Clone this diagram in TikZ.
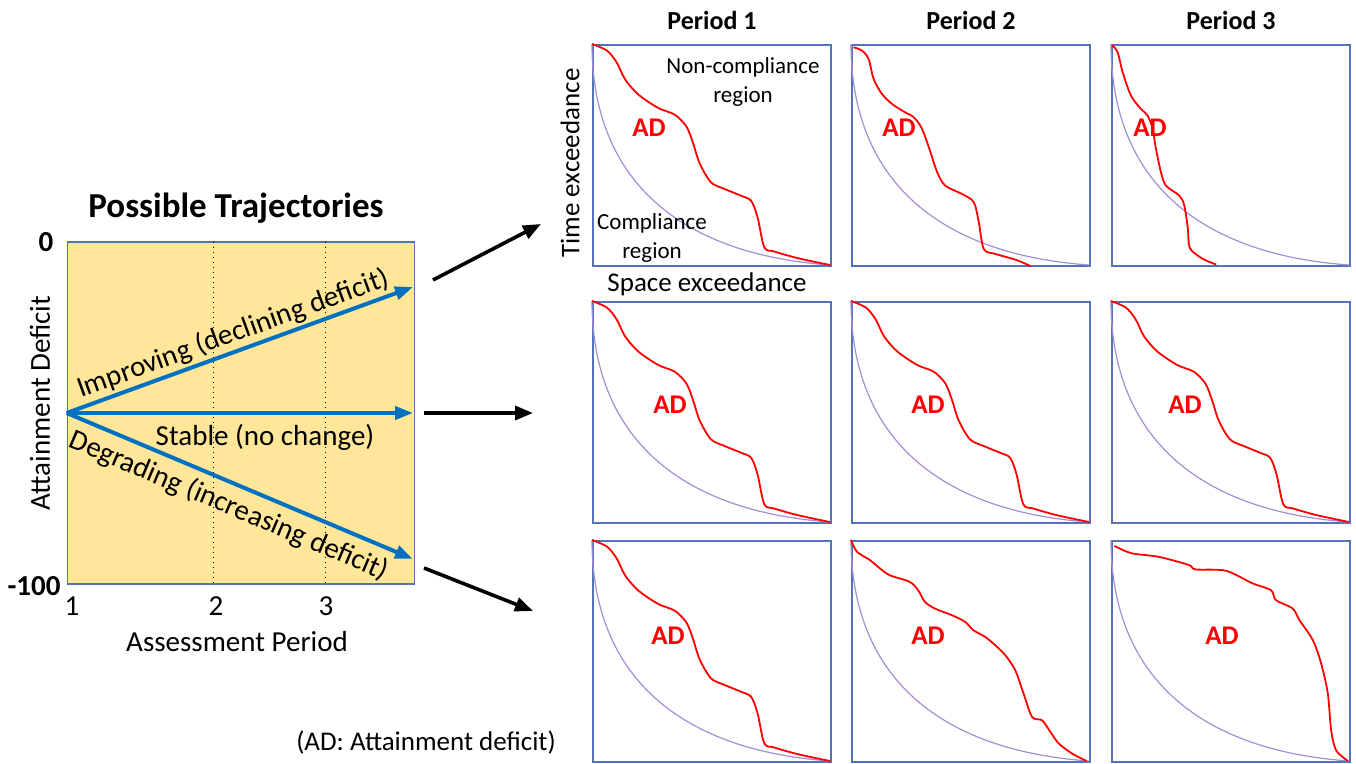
\documentclass[tikz,border=0pt]{standalone}
\usepackage{fontspec}
\setmainfont{Carlito}
\usetikzlibrary{arrows.meta}

\definecolor{gold}{HTML}{FFE699}
\definecolor{trajblue}{HTML}{0070C0}
\definecolor{frameblue}{HTML}{5273B5}
\definecolor{boundpurple}{HTML}{A58CD6}

\tikzset{
  panel/.style={draw=frameblue, line width=1pt, minimum width=119pt, minimum height=110.5pt, inner sep=0pt},
  bound/.style={draw=boundpurple, line width=0.6pt},
  deficit/.style={draw=red, line width=0.9pt},
  adlabel/.style={text=red, font=\bfseries\fontsize{13.5}{16}\selectfont},
  trajarrow/.style={trajblue, line width=2pt, -{Triangle[length=9pt,width=6.5pt]}},
  link/.style={black, line width=1.8pt, -{Triangle[length=9pt,width=7pt]}},
  lbl/.style={font=\fontsize{14.5}{17}\selectfont},
  small/.style={font=\fontsize{13.5}{16}\selectfont},
  region/.style={font=\fontsize{11.5}{14.5}\selectfont, align=center},
  head/.style={font=\bfseries\fontsize{13}{16}\selectfont},
}

% red curves, panel-local units
\newcommand\adcurveA{\draw[deficit] plot[smooth,tension=0.5] coordinates {(0,0) (.063,.03) (.104,.084) (.139,.16) (.195,.229) (.279,.29) (.348,.32) (.397,.374) (.425,.45) (.453,.542) (.5,.626) (.557,.656) (.627,.687) (.669,.71) (.696,.786) (.724,.92) (.766,.939) (.864,.969) (1,1)};}
\newcommand\adcurveB{\draw[deficit] plot[smooth,tension=0.5] coordinates {(.011,.015) (.046,.03) (.074,.068) (.095,.158) (.13,.226) (.172,.271) (.222,.306) (.264,.332) (.299,.385) (.334,.49) (.362,.58) (.396,.641) (.467,.679) (.516,.716) (.537,.807) (.558,.928) (.607,.95) (.691,.976) (.755,1.005)};}
\newcommand\adcurveC{\draw[deficit] plot[smooth,tension=0.5] coordinates {(.004,.005) (.028,.038) (.049,.128) (.084,.234) (.126,.294) (.154,.324) (.175,.385) (.189,.475) (.21,.581) (.231,.641) (.287,.686) (.308,.731) (.323,.837) (.33,.92) (.365,.958) (.4,.98) (.442,.998)};}
\newcommand\adcurveD{\draw[deficit] plot[smooth,tension=0.5] coordinates {(0,0) (.025,.053) (.08,.091) (.113,.121) (.162,.159) (.246,.189) (.282,.227) (.31,.279) (.352,.31) (.423,.34) (.479,.37) (.514,.408) (.563,.438) (.606,.476) (.648,.521) (.69,.589) (.725,.695) (.761,.801) (.803,.816) (.838,.869) (.873,.921) (.93,.967) (.99,1)};}
\newcommand\adcurveE{\draw[deficit] plot[smooth,tension=0.5] coordinates {(.014,.027) (.087,.06) (.2,.076) (.327,.113) (.355,.133) (.482,.139) (.594,.196) (.672,.227) (.693,.272) (.763,.31) (.792,.363) (.848,.453) (.883,.559) (.911,.695) (.925,.861) (.946,.952) (.996,1)};}

\begin{document}
\begin{tikzpicture}[x=0.5pt,y=-0.5pt]
  \useasboundingbox (0,0) rectangle (1356,764);

  % trajectory chart
  \node[fill=gold, draw=frameblue, line width=0.8pt, minimum width=173.5pt, minimum height=171pt, inner sep=0pt] (chart) at (241,413) {};
  \draw[dotted, line width=0.5pt] (213,242) -- (213,584);
  \draw[dotted, line width=0.5pt] (325,242) -- (325,584);
  \coordinate (start) at (chart.west);
  \coordinate (up) at (413,287);
  \coordinate (flat) at (413,413);
  \coordinate (down) at (413,559);
  \draw[trajarrow] (start) -- (up);
  \draw[trajarrow] (start) -- (flat);
  \draw[trajarrow] (start) -- (down);

  \node[font=\bfseries\fontsize{17.5}{20}\selectfont] (title) at (236,208) {Possible Trajectories};
  \node[lbl, rotate=20] (improve) at (233,334) {Improving (declining deficit)};
  \node[lbl] (stable) at (265,437) {Stable (no change)};
  \node[lbl, rotate=-22.9] (degrade) at (229,506) {Degrading (increasing deficit)};
  \node[font=\bfseries\fontsize{14.5}{17}\selectfont] (y0) at (46,242) {0};
  \node[font=\bfseries\fontsize{14.5}{17}\selectfont] (y100) at (34,586) {-100};
  \node[lbl] (x1) at (72,606) {1};
  \node[lbl] (x2) at (216,606) {2};
  \node[lbl] (x3) at (326,606) {3};
  \node[lbl] (xlab) at (237,642) {Assessment Period};
  \node[lbl, rotate=90] (ylab) at (40,403) {Attainment Deficit};

  % panels
  \node[panel] (p11) at (712,155.5) {};
  \node[panel] (p12) at (971,155.5) {};
  \node[panel] (p13) at (1231,155.5) {};
  \node[panel] (p21) at (712,412.5) {};
  \node[panel] (p22) at (971,412.5) {};
  \node[panel] (p23) at (1231,412.5) {};
  \node[panel] (p31) at (712,651.5) {};
  \node[panel] (p32) at (971,651.5) {};
  \node[panel] (p33) at (1231,651.5) {};

  \foreach \p in {p11,p12,p13,p21,p22,p23,p31,p32,p33}{
    \begin{scope}[shift={(\p.north west)}, x=119pt, y=-110.5pt]
      \draw[bound] (0,0) .. controls (0,0.6) and (0.35,0.95) .. (1,1);
    \end{scope}
  }
  \foreach \p in {p11,p21,p22,p23,p31}{
    \begin{scope}[shift={(\p.north west)}, x=119pt, y=-110.5pt]
      \adcurveA
    \end{scope}
  }
  \begin{scope}[shift={(p12.north west)}, x=119pt, y=-110.5pt] \adcurveB \end{scope}
  \begin{scope}[shift={(p13.north west)}, x=119pt, y=-110.5pt] \adcurveC \end{scope}
  \begin{scope}[shift={(p32.north west)}, x=119pt, y=-110.5pt] \adcurveD \end{scope}
  \begin{scope}[shift={(p33.north west)}, x=119pt, y=-110.5pt] \adcurveE \end{scope}

  \node[adlabel] (ad11) at (649,128) {AD};
  \node[adlabel] (ad12) at (899,128) {AD};
  \node[adlabel] (ad13) at (1150,128) {AD};
  \node[adlabel] (ad21) at (670,405) {AD};
  \node[adlabel] (ad22) at (928,405) {AD};
  \node[adlabel] (ad23) at (1185,405) {AD};
  \node[adlabel] (ad31) at (668,636) {AD};
  \node[adlabel] (ad32) at (928,636) {AD};
  \node[adlabel] (ad33) at (1222,636) {AD};

  \node[head] (per1) at (712,20) {Period 1};
  \node[head] (per2) at (971,20) {Period 2};
  \node[head] (per3) at (1231,20) {Period 3};

  \node[small, rotate=90] (timeex) at (570,163) {Time exceedance};
  \node[small] (spaceex) at (707,284) {Space exceedance};
  \node[region] (noncomp) at (743,82) {Non-compliance\\region};
  \node[region] (comp) at (652,238) {Compliance\\region};
  \node[small] (note) at (426,742) {(AD: Attainment deficit)};

  % links to panel rows
  \coordinate (l1a) at (433,280);
  \coordinate (l1b) at (541,224);
  \coordinate (l2a) at (424,413);
  \coordinate (l2b) at (533,413);
  \coordinate (l3a) at (424,568);
  \coordinate (l3b) at (533,611);
  \draw[link] (l1a) -- (l1b);
  \draw[link] (l2a) -- (l2b);
  \draw[link] (l3a) -- (l3b);
\end{tikzpicture}
\end{document}
